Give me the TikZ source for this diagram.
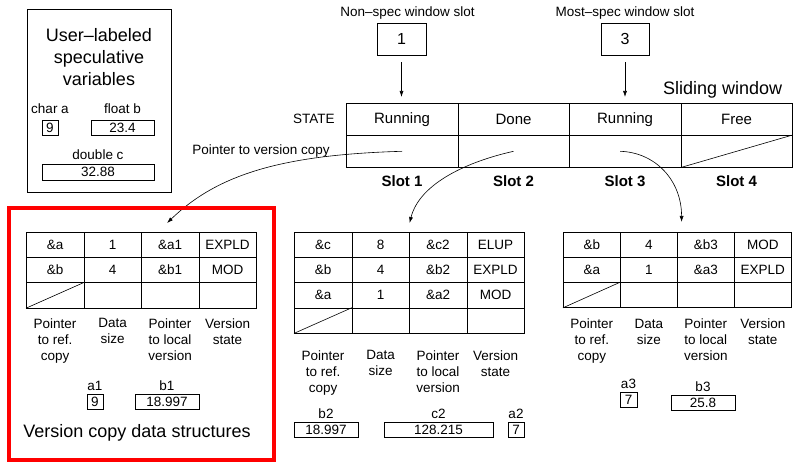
\documentclass[tikz,border=0pt]{standalone}
\usepackage{fontspec}
\setmainfont{Liberation Sans}
\usetikzlibrary{positioning,arrows.meta,calc}

\tikzset{
  cell/.style={draw, anchor=north west, minimum width=57.5pt, minimum height=25.2pt,
    inner sep=0pt, font=\fontsize{13.5}{15}\selectfont},
  slotcell/.style={draw, anchor=north west, minimum width=111.5pt, minimum height=32pt,
    inner sep=0pt, font=\fontsize{15}{17}\selectfont},
  valbox/.style={draw, inner sep=0pt, minimum height=15pt, font=\fontsize{13.5}{15}\selectfont},
  txt/.style={inner sep=1pt, font=\fontsize{13.5}{16}\selectfont},
  bigtxt/.style={inner sep=1pt, font=\fontsize{18}{22}\selectfont},
  colhead/.style={txt, align=center},
  slotlbl/.style={inner sep=1pt, font=\fontsize{15}{17}\selectfont\bfseries},
  ptr/.style={-{Latex[length=6pt,width=4pt]}},
}

\begin{document}
\begin{tikzpicture}[x=1pt, y=-1pt, line width=0.6pt]
\useasboundingbox (0,0) rectangle (793,465);

% user-labeled speculative variables
\node[draw, minimum width=144pt, minimum height=183pt] (uvars) at (99,100.5) {};
\node[bigtxt, align=center] (uvtitle) at (99,57) {User--labeled\\speculative\\variables};
\node[valbox, minimum width=16pt] (va) at (50,127.5) {9};
\node[valbox, minimum width=63pt] (vb) at (122.5,127.5) {23.4};
\node[valbox, minimum width=112pt, minimum height=16pt] (vc) at (98,172) {32.88};
\node[txt, above=5pt of va] (la) {char a};
\node[txt, above=5pt of vb] (lb) {float b};
\node[txt, above=3pt of vc] (lc) {double c};

% window slot pointers
\node[draw, minimum width=49pt, minimum height=32pt, font=\fontsize{16}{18}\selectfont] (nonspec) at (401.5,39) {1};
\node[draw, minimum width=48pt, minimum height=32pt, font=\fontsize{16}{18}\selectfont] (mostspec) at (625,39) {3};
\node[txt, above=2pt of nonspec, xshift=6pt] (nonspeclbl) {Non--spec window slot};
\node[txt, above=2pt of mostspec] (mostspeclbl) {Most--spec window slot};

% sliding window
\foreach \c/\t in {1/Running, 2/Done, 3/Running, 4/Free}{
  \node[slotcell] (sw-1-\c) at ({346+(\c-1)*111.5},103) {\t};
  \node[slotcell] (sw-2-\c) at ({346+(\c-1)*111.5},135) {};
  \node[slotlbl, below=7pt of sw-2-\c] (slot-\c) {Slot \c};
}
\draw (sw-2-4.south west) -- (sw-2-4.north east);
\node[txt, left=10pt of sw-1-1] (statelbl) {STATE};
\node[txt, left=15pt of sw-2-1] (ptrlbl) {Pointer to version copy};
\node[bigtxt, above=3pt of sw-1-4, xshift=-14pt] (swlbl) {Sliding window};

\draw[ptr, shorten <=7pt, shorten >=6pt] (nonspec.south) -- (nonspec.south |- sw-1-1.north);
\draw[ptr, shorten <=7pt, shorten >=6pt] (mostspec.south) -- (mostspec.south |- sw-1-3.north);

% version copy of slot 1
\foreach \r/\c/\t in {1/1/\&a, 1/2/1, 1/3/\&a1, 1/4/EXPLD,
                      2/1/\&b, 2/2/4, 2/3/\&b1, 2/4/MOD,
                      3/1/{}, 3/2/{}, 3/3/{}, 3/4/{}}
  \node[cell] (t1-\r-\c) at ({26+(\c-1)*57.5},{232+(\r-1)*25.2}) {\t};
\draw (t1-3-1.south west) -- (t1-3-1.north east);

% version copy of slot 2
\foreach \r/\c/\t in {1/1/\&c, 1/2/8, 1/3/\&c2, 1/4/ELUP,
                      2/1/\&b, 2/2/4, 2/3/\&b2, 2/4/EXPLD,
                      3/1/\&a, 3/2/1, 3/3/\&a2, 3/4/MOD,
                      4/1/{}, 4/2/{}, 4/3/{}, 4/4/{}}
  \node[cell] (t2-\r-\c) at ({294+(\c-1)*57.5},{232+(\r-1)*25.2}) {\t};
\draw (t2-4-1.south west) -- (t2-4-1.north east);

% version copy of slot 3
\foreach \r/\c/\t in {1/1/\&b, 1/2/4, 1/3/\&b3, 1/4/MOD,
                      2/1/\&a, 2/2/1, 2/3/\&a3, 2/4/EXPLD,
                      3/1/{}, 3/2/{}, 3/3/{}, 3/4/{}}
  \node[cell, minimum width=57pt] (t3-\r-\c) at ({563+(\c-1)*57},{232+(\r-1)*25}) {\t};
\draw (t3-3-1.south west) -- (t3-3-1.north east);

% column headings
\foreach \c/\t in {1/{Pointer\\to ref.\\copy}, 2/{Data\\size},
                   3/{Pointer\\to local\\version}, 4/{Version\\state}}{
  \node[colhead, below=9pt of t1-3-\c] (t1-h\c) {\t};
  \node[colhead, below=16pt of t2-4-\c] (t2-h\c) {\t};
  \node[colhead, below=10pt of t3-3-\c] (t3-h\c) {\t};
}

% local versions
\node[valbox, minimum width=16pt] (va1) at (95,402) {9};
\node[valbox, minimum width=64pt] (vb1) at (167,402) {18.997};
\node[valbox, minimum width=64pt] (vb2) at (326,430) {18.997};
\node[valbox, minimum width=109pt] (vc2) at (438.5,430) {128.215};
\node[valbox, minimum width=16pt] (va2) at (516,430) {7};
\node[valbox, minimum width=17pt] (va3) at (628.5,400) {7};
\node[valbox, minimum width=64pt] (vb3) at (703,402.5) {25.8};
\foreach \v in {a1,b1,b2,c2,a2,a3,b3}
  \node[txt, above=2pt of v\v] (l\v) {\v};

% pointers to version copies
\draw[ptr] (sw-2-1.center) .. controls +(-122,3.5) and +(50,-48) .. ([xshift=-3pt,yshift=9pt]t1-1-3.north);
\draw[ptr] (sw-2-2.center) .. controls +(-45,10) and +(10,-40) .. ([yshift=9pt]t2-1-2.north east);
\draw[ptr] ([xshift=-5pt]sw-2-3.center) .. controls +(35,1) and +(0,-42) .. ([xshift=4pt,yshift=10pt]t3-1-2.north east);

% highlighted version copy
\draw[red, line width=4pt] (9,208) rectangle (274,460);
\node[bigtxt] (vclbl) at (137,433) {Version copy data structures};
\end{tikzpicture}
\end{document}
